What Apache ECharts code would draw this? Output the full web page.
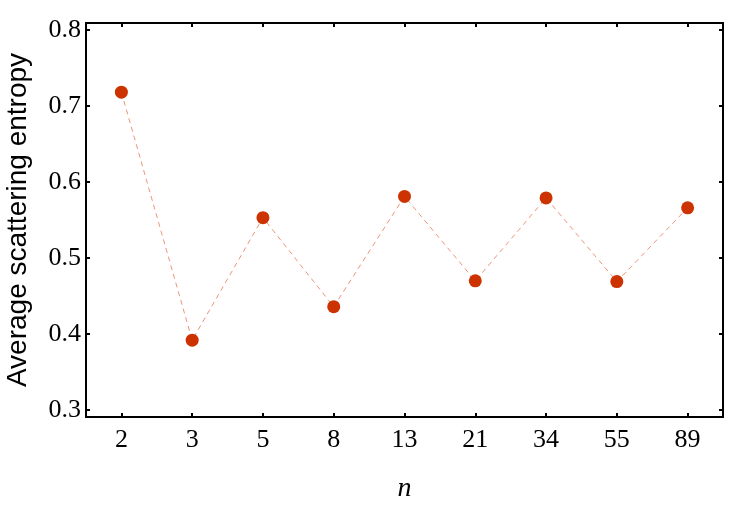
<!DOCTYPE html>
<html>
<head>
<meta charset="utf-8">
<script src="https://cdn.jsdelivr.net/npm/echarts@6/dist/echarts.min.js"></script>
<style>
  html, body { margin: 0; padding: 0; background: #fff; }
  #chart { width: 747px; height: 507px; }
</style>
</head>
<body>
<div id="chart"></div>
<script>
const nValues = ['2', '3', '5', '8', '13', '21', '34', '55', '89'];
const entropy = [0.718, 0.392, 0.553, 0.436, 0.581, 0.470, 0.579, 0.469, 0.566];
const yTicks = [0.3, 0.4, 0.5, 0.6, 0.7, 0.8];

const serif = '"Liberation Serif", "DejaVu Serif", serif';
const tickStyle = { show: true, inside: true, length: 4, lineStyle: { color: '#000', width: 2 } };

const chart = echarts.init(document.getElementById('chart'));
chart.setOption({
  animation: false,
  grid: {
    left: 86, right: 24, top: 23, bottom: 90,
    outerBoundsMode: 'none',
    containLabel: false,
    show: true, borderColor: '#000', borderWidth: 2, backgroundColor: 'transparent'
  },
  xAxis: [
    {
      type: 'category',
      data: nValues,
      position: 'bottom',
      axisLine: { show: false },
      axisTick: Object.assign({ alignWithLabel: true }, tickStyle),
      axisLabel: { color: '#000', fontFamily: serif, fontSize: 26, margin: 10 },
      name: 'n',
      nameLocation: 'middle',
      nameGap: 58,
      nameTextStyle: { color: '#000', fontFamily: serif, fontStyle: 'italic', fontSize: 28 }
    },
    {
      type: 'category',
      data: nValues,
      position: 'top',
      axisLine: { show: false },
      axisTick: Object.assign({ alignWithLabel: true }, tickStyle),
      axisLabel: { show: false }
    }
  ],
  yAxis: [
    {
      type: 'value',
      min: 0.291,
      max: 0.809,
      position: 'left',
      axisLine: { show: false },
      splitLine: { show: false },
      axisTick: Object.assign({ customValues: yTicks }, tickStyle),
      axisLabel: {
        customValues: yTicks,
        color: '#000', fontFamily: serif, fontSize: 26, margin: 5,
        formatter: v => v.toFixed(1)
      },
      name: 'Average scattering entropy',
      nameLocation: 'middle',
      nameGap: 54,
      nameTextStyle: { color: '#000', fontFamily: '"Liberation Sans", Arial, sans-serif', fontSize: 28 }
    },
    {
      type: 'value',
      min: 0.291,
      max: 0.809,
      position: 'right',
      axisLine: { show: false },
      splitLine: { show: false },
      axisTick: Object.assign({ customValues: yTicks }, tickStyle),
      axisLabel: { show: false }
    }
  ],
  series: [
    {
      type: 'line',
      data: entropy,
      symbol: 'circle',
      symbolSize: 13,
      itemStyle: { color: '#cc3300' },
      lineStyle: { color: '#ec9478', width: 1, type: [5, 4] }
    }
  ]
});
</script>
</body>
</html>
